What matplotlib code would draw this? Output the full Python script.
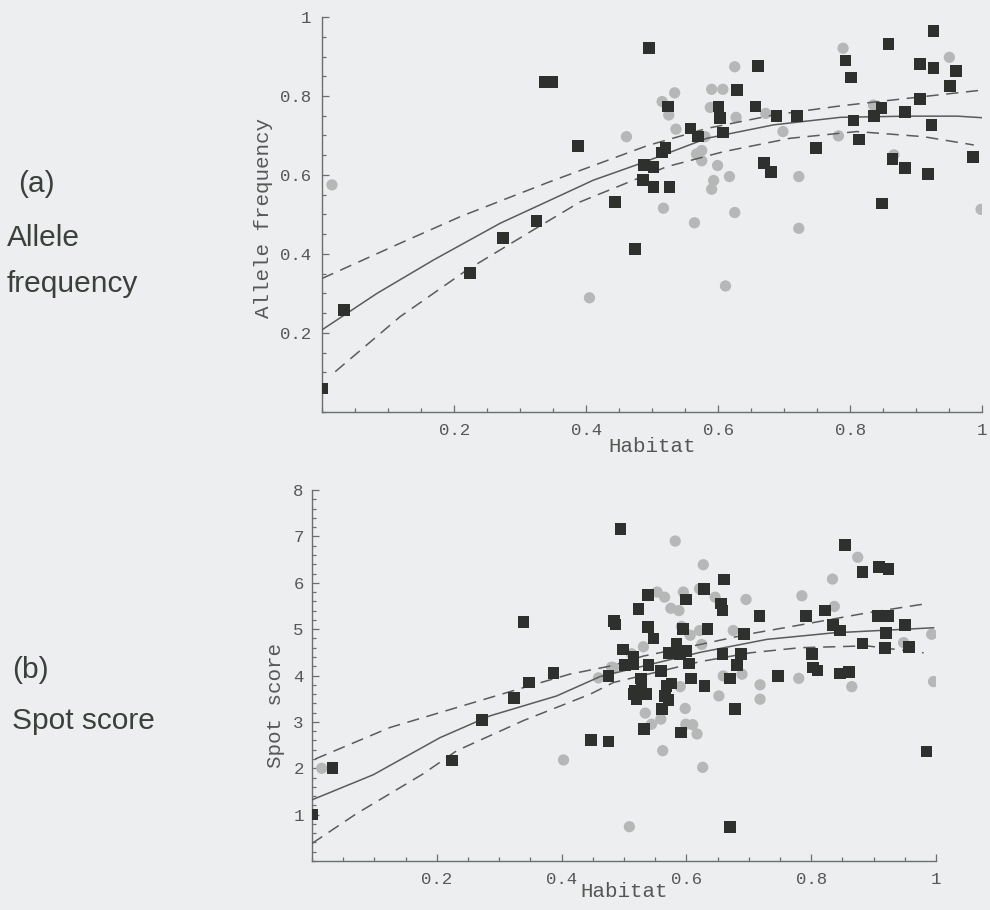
import matplotlib
matplotlib.use("Agg")
import matplotlib.pyplot as plt
from matplotlib.ticker import MultipleLocator, FixedLocator

# (a) allele frequency vs habitat
sq_a_x = [0.0, 0.033, 0.224, 0.274, 0.325, 0.444, 0.474, 0.338, 0.348, 0.388, 0.4955, 0.660,
          0.628, 0.524, 0.6005, 0.6565, 0.603, 0.688, 0.719, 0.558, 0.569, 0.607, 0.520, 0.515,
          0.488, 0.502, 0.486, 0.502, 0.526, 0.669, 0.680, 0.748, 0.805, 0.813, 0.793, 0.801,
          0.858, 0.926, 0.906, 0.926, 0.960, 0.951, 0.906, 0.883, 0.836, 0.847, 0.923, 0.864,
          0.883, 0.918, 0.848, 0.986]
sq_a_y = [0.059, 0.258, 0.352, 0.440, 0.484, 0.532, 0.413, 0.836, 0.836, 0.674, 0.921, 0.876,
          0.815, 0.773, 0.773, 0.773, 0.745, 0.750, 0.750, 0.718, 0.697, 0.708, 0.668, 0.657,
          0.625, 0.621, 0.587, 0.569, 0.569, 0.630, 0.607, 0.668, 0.738, 0.690, 0.890, 0.847,
          0.932, 0.965, 0.881, 0.871, 0.863, 0.825, 0.792, 0.759, 0.750, 0.769, 0.727, 0.640,
          0.617, 0.603, 0.528, 0.645]
ci_a_x = [0.015, 0.405, 0.461, 0.789, 0.625, 0.950, 0.590, 0.607, 0.534, 0.515, 0.525, 0.588,
          0.627, 0.672, 0.536, 0.580, 0.698, 0.782, 0.835, 0.575, 0.567, 0.575, 0.599, 0.617,
          0.593, 0.590, 0.722, 0.517, 0.625, 0.866, 0.998, 0.564, 0.722, 0.611]
ci_a_y = [0.575, 0.289, 0.697, 0.921, 0.874, 0.898, 0.817, 0.817, 0.808, 0.786, 0.752, 0.771,
          0.746, 0.756, 0.716, 0.697, 0.710, 0.699, 0.777, 0.662, 0.653, 0.636, 0.624, 0.596,
          0.586, 0.564, 0.596, 0.516, 0.505, 0.651, 0.513, 0.479, 0.465, 0.319]

fit_a_x = [0.0, 0.083, 0.169, 0.27, 0.34, 0.411, 0.487, 0.583, 0.684, 0.785, 0.886, 0.962, 1.0]
fit_a_y = [0.208, 0.30, 0.385, 0.478, 0.532, 0.587, 0.632, 0.693, 0.727, 0.746, 0.749, 0.749, 0.745]
hi_a_x = [0.0, 0.118, 0.21, 0.345, 0.492, 0.583, 0.684, 0.785, 0.886, 1.0]
hi_a_y = [0.338, 0.427, 0.495, 0.583, 0.674, 0.718, 0.752, 0.775, 0.794, 0.815]
lo_a_x = [0.02, 0.118, 0.219, 0.32, 0.391, 0.522, 0.608, 0.709, 0.810, 0.911, 0.987]
lo_a_y = [0.102, 0.241, 0.359, 0.461, 0.532, 0.621, 0.659, 0.693, 0.710, 0.697, 0.676]

# (b) spot score vs habitat
sq_b_x = [0.0005, 0.033, 0.224, 0.272, 0.324, 0.348, 0.447, 0.475, 0.518, 0.520, 0.532, 0.591,
          0.678, 0.670, 0.985, 0.4946, 0.854, 0.882, 0.909, 0.924, 0.660, 0.5385, 0.599, 0.628,
          0.523, 0.655, 0.6575, 0.717, 0.792, 0.822, 0.906, 0.924, 0.950, 0.8345, 0.846, 0.920,
          0.882, 0.918, 0.957, 0.692, 0.484, 0.486, 0.5385, 0.594, 0.6335, 0.547, 0.584, 0.571,
          0.590, 0.599, 0.498, 0.515, 0.502, 0.515, 0.539, 0.559, 0.604, 0.6575, 0.6875, 0.681,
          0.801, 0.803, 0.810, 0.846, 0.861, 0.747, 0.670, 0.607, 0.527, 0.475, 0.568, 0.576,
          0.629, 0.339, 0.387, 0.515, 0.536, 0.528, 0.561, 0.566, 0.571]
sq_b_y = [1.0, 2.0, 2.17, 3.04, 3.51, 3.85, 2.61, 2.58, 3.67, 3.49, 2.85, 2.77,
          3.28, 0.74, 2.36, 7.16, 6.82, 6.23, 6.34, 6.30, 6.07, 5.74, 5.64, 5.87,
          5.44, 5.55, 5.40, 5.28, 5.28, 5.40, 5.28, 5.28, 5.09, 5.09, 4.97, 4.92,
          4.69, 4.59, 4.62, 4.89, 5.17, 5.10, 5.05, 5.01, 5.01, 4.80, 4.69, 4.49,
          4.47, 4.53, 4.56, 4.40, 4.23, 4.24, 4.23, 4.10, 4.26, 4.47, 4.47, 4.23,
          4.47, 4.17, 4.11, 4.04, 4.08, 3.99, 3.94, 3.94, 3.94, 3.99, 3.78, 3.83,
          3.78, 5.16, 4.06, 3.60, 3.60, 3.74, 3.28, 3.56, 3.47]
ci_b_x = [0.0155, 0.403, 0.5085, 0.562, 0.626, 0.598, 0.534, 0.544, 0.559, 0.599, 0.610, 0.617,
          0.652, 0.718, 0.718, 0.865, 0.996, 0.590, 0.480, 0.459, 0.512, 0.582, 0.627, 0.8745,
          0.834, 0.553, 0.565, 0.595, 0.621, 0.646, 0.6955, 0.785, 0.837, 0.575, 0.588, 0.592,
          0.606, 0.621, 0.675, 0.531, 0.6245, 0.483, 0.659, 0.689, 0.780, 0.948, 0.993]
ci_b_y = [2.0, 2.18, 0.74, 2.38, 2.02, 3.29, 3.19, 2.95, 3.06, 2.95, 2.94, 2.74,
          3.56, 3.49, 3.80, 3.76, 3.87, 3.76, 4.18, 3.95, 4.47, 6.90, 6.39, 6.55,
          6.08, 5.80, 5.69, 5.80, 5.87, 5.69, 5.64, 5.72, 5.49, 5.45, 5.40, 5.06,
          4.87, 4.97, 4.97, 4.62, 4.67, 4.17, 3.99, 4.03, 3.94, 4.71, 4.89]

fit_b_x = [0.0, 0.098, 0.205, 0.285, 0.392, 0.462, 0.622, 0.729, 0.835, 0.996]
fit_b_y = [1.32, 1.86, 2.66, 3.13, 3.56, 3.98, 4.50, 4.78, 4.92, 5.03]
hi_b_x = [0.005, 0.125, 0.232, 0.339, 0.413, 0.480, 0.531, 0.622, 0.702, 0.782, 0.889, 0.98]
hi_b_y = [2.20, 2.88, 3.31, 3.74, 4.03, 4.21, 4.42, 4.67, 4.90, 5.09, 5.35, 5.54]
lo_b_x = [0.0, 0.071, 0.178, 0.232, 0.339, 0.446, 0.483, 0.622, 0.702, 0.782, 0.889, 0.98]
lo_b_y = [0.38, 1.02, 1.88, 2.38, 3.03, 3.60, 3.85, 4.30, 4.49, 4.60, 4.64, 4.49]

BG = "#eceef0"
AXC = "#6c706c"
SQ = "#2e302e"
CI = "#b6b8b8"
LN = "#5a5c5a"
MONO = "Liberation Mono"
SANS = "Liberation Sans"

fig = plt.figure(figsize=(9.9, 9.1), dpi=100, facecolor=BG)


def panel(rect, sx, sy, cx, cy, fit, hi, lo, ymax, ymaj, ymin, ylabel, ylab_pos, xlab_y,
          ypad, xpad):
    ax = fig.add_axes(rect)
    ax.set_facecolor(BG)
    ax.scatter(cx, cy, marker="o", s=66, color=CI, edgecolors="none", zorder=2)
    ax.plot(*fit, color=LN, lw=1.1, zorder=3)
    for xs, ys in (hi, lo):
        ax.plot(xs, ys, color=LN, lw=1.1, dashes=(8, 5), zorder=3)
    ax.scatter(sx, sy, marker="s", s=70, color=SQ, edgecolors="none", zorder=4)

    ax.set_xlim(0, 1)
    ax.set_ylim(0, ymax)
    for s in ("top", "right"):
        ax.spines[s].set_visible(False)
    for s in ("left", "bottom"):
        ax.spines[s].set_color(AXC)
        ax.spines[s].set_linewidth(1.0)
        ax.spines[s].set_clip_on(False)

    ax.xaxis.set_major_locator(FixedLocator([0.2, 0.4, 0.6, 0.8, 1.0]))
    ax.xaxis.set_minor_locator(MultipleLocator(0.05))
    ax.set_xticklabels(["0.2", "0.4", "0.6", "0.8", "1"])
    ax.yaxis.set_major_locator(FixedLocator(ymaj))
    ax.yaxis.set_minor_locator(MultipleLocator(ymin))
    ax.set_yticklabels([f"{v:g}" for v in ymaj])
    ax.tick_params(which="both", direction="in", color=AXC, width=0.9,
                   labelcolor="#555855", labelsize=12.5)
    ax.tick_params(which="major", length=5)
    ax.tick_params(which="minor", length=3)
    ax.tick_params(axis="y", pad=ypad)
    ax.tick_params(axis="x", pad=xpad)
    for lab in ax.get_xticklabels() + ax.get_yticklabels():
        lab.set_family(MONO)

    ax.text(0.5, xlab_y, "Habitat", transform=ax.transAxes, ha="center", va="center",
            family=MONO, fontsize=15, color="#555855")
    ax.text(ylab_pos[0], ylab_pos[1], ylabel, transform=ax.transAxes, ha="center",
            va="center", rotation=90, family=MONO, fontsize=15, color="#555855")
    return ax


panel([0.3253, 0.5473, 0.667, 0.434], sq_a_x, sq_a_y, ci_a_x, ci_a_y,
      (fit_a_x, fit_a_y), (hi_a_x, hi_a_y), (lo_a_x, lo_a_y),
      1.0, [0.2, 0.4, 0.6, 0.8, 1.0], 0.05, "Allele frequency", (-0.089, 0.49), -0.088,
      8, 8)
panel([0.3152, 0.0538, 0.6303, 0.4077], sq_b_x, sq_b_y, ci_b_x, ci_b_y,
      (fit_b_x, fit_b_y), (hi_b_x, hi_b_y), (lo_b_x, lo_b_y),
      8.0, [1, 2, 3, 4, 5, 6, 7, 8], 0.2, "Spot score", (-0.058, 0.42), -0.083,
      6, 8)

side = dict(family=SANS, fontsize=21.5, color="#3b403b", ha="left", va="center")
fig.text(18 / 990, 1 - 184 / 910, "(a)", **side)
fig.text(7 / 990, 1 - 238 / 910, "Allele", **side)
fig.text(7 / 990, 1 - 284 / 910, "frequency", **side)
fig.text(12 / 990, 1 - 670 / 910, "(b)", **side)
fig.text(12 / 990, 1 - 721 / 910, "Spot score", **side)

fig.savefig("out.png", dpi=100, facecolor=BG)
